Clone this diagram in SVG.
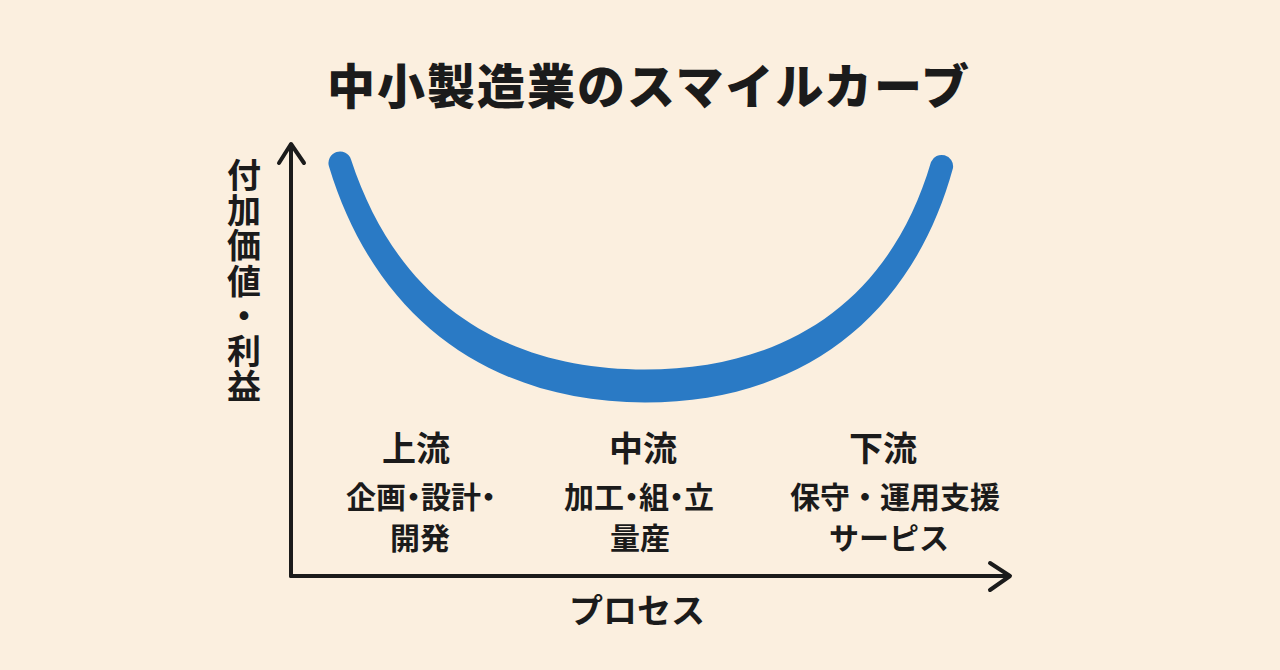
<svg xmlns="http://www.w3.org/2000/svg" width="1280" height="670" viewBox="0 0 1280 670">
  <style>
    text { font-family: "Noto Sans CJK JP", "Noto Sans CJK SC", sans-serif; fill: #1b1b1b; text-anchor: middle; }
    .title { font-size: 48px; font-weight: 900; letter-spacing: 2px; }
    .ylab { font-size: 34px; font-weight: 700; writing-mode: vertical-rl; text-anchor: start; letter-spacing: 1.2px; }
    .head { font-size: 34px; font-weight: 700; }
    .sub { font-size: 30px; font-weight: 700; }
    .palt { font-feature-settings: "palt"; }
    .xlab { font-size: 34px; font-weight: 700; }
    .axis { fill: none; stroke: #1b1b1b; stroke-width: 4; stroke-linecap: round; stroke-linejoin: round; }
  </style>
  <rect x="0" y="0" width="1280" height="670" fill="#FBEFDF"/>

  <g id="title">
    <text class="title" x="649" y="104">中小製造業のスマイルカーブ</text>
  </g>

  <g id="connectors">
    <line class="axis" x1="291" y1="145" x2="291" y2="576"/>
    <line class="axis" x1="291" y1="576" x2="1009" y2="576"/>
    <polyline class="axis" points="279,163 291,144 304,163"/>
    <polyline class="axis" points="990,563 1010,576 990,590"/>
  </g>

  <g id="smile-curve">
    <path fill="#2A7AC5" d="M329,166.5 C378,328 500,402.5 645,402.5 C800,402.5 912,318 953,168 A11.5,11.5 0 0 0 931,162 C889,305 782,369.5 645,369.5 C515,369.5 401,312 351,159.5 A11.5,11.5 0 0 0 329,166.5 Z"/>
  </g>

  <g id="y-axis-label">
    <text class="ylab" x="244" y="158">付加価値・利益</text>
  </g>

  <g id="upstream">
    <text class="head" x="416" y="461">上流</text>
    <text class="sub palt" x="421" y="508">企画・設計・</text>
    <text class="sub" x="420" y="549">開発</text>
  </g>

  <g id="midstream">
    <text class="head" x="643" y="461">中流</text>
    <text class="sub palt" x="639" y="508">加工・組・立</text>
    <text class="sub" x="640" y="549">量産</text>
  </g>

  <g id="downstream">
    <text class="head" x="883" y="461">下流</text>
    <text class="sub" x="895" y="508">保守・運用支援</text>
    <text class="sub" x="889" y="549">サーピス</text>
  </g>

  <g id="x-axis-label">
    <text class="xlab" x="637" y="623">プロセス</text>
  </g>
</svg>
